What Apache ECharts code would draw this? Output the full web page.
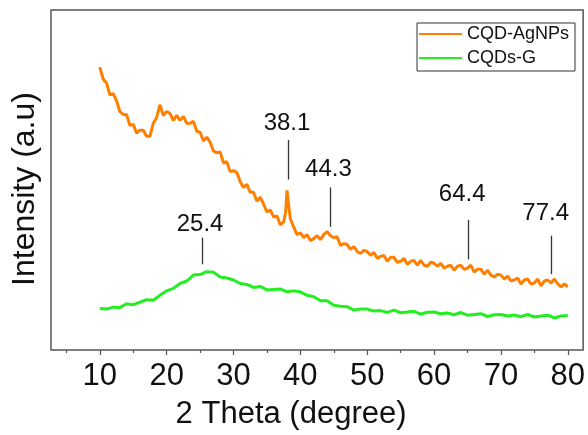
<!DOCTYPE html>
<html>
<head>
<meta charset="utf-8">
<script src="https://cdn.jsdelivr.net/npm/echarts@6/dist/echarts.min.js"></script>
<style>
html,body{margin:0;padding:0;background:#fff;}
#chart{width:588px;height:435px;}
</style>
</head>
<body>
<div id="chart"></div>
<script>
// ---- data (intensity in arbitrary units) ----
const agnpTheta = [10,10.5,11,11.5,12,12.5,13,13.5,14,14.5,15,15.5,16,16.5,17,17.5,18,18.5,19,19.5,20,20.5,21,21.5,22,22.5,23,23.5,24,24.5,25,25.5,26,26.5,27,27.5,28,28.5,29,29.5,30,30.5,31,31.5,32,32.5,33,33.5,34,34.5,35,35.5,36,36.5,37,37.5,37.8,38.0,38.2,38.5,39,39.5,40,40.5,41,41.5,42,42.5,43,43.5,44,44.5,45,45.5,46,46.5,47,47.5,48,48.5,49,49.5,50,50.5,51,51.5,52,52.5,53,53.5,54,54.5,55,55.5,56,56.5,57,57.5,58,58.5,59,59.5,60,60.5,61,61.5,62,62.5,63,63.5,64,64.5,65,65.5,66,66.5,67,67.5,68,68.5,69,69.5,70,70.5,71,71.5,72,72.5,73,73.5,74,74.5,75,75.5,76,76.5,77,77.5,78,78.5,79,79.5,80];
const agnpIntensity = [287,275,271,259,260,253,242,239,239,228,229,220,223,223,217,217,230,236,249,238,242,240,233,238,233,237,230,230,232,222,221,212,216,211,202,200,201,190,191,181,182,180,171,165,168,160,160,151,155,148,140,142,135,136,127,130,140,162,150,133,125,117,119,114,117,111,113,116,112,117,120,116,114,115,106,108,107,102,105,100,98,101,100,96,99,93,95,96,90,94,94,89,90,93,87,90,91,86,91,86,85,89,88,85,88,83,85,86,81,85,86,82,83,86,79,82,82,77,81,76,74,77,76,72,75,70,71,73,67,71,72,67,68,72,65,70,71,68,72,67,64,67,64];

const gTheta = [10,11,12,13,14,15,16,17,18,19,20,21,22,23,24,25,26,27,28,29,30,31,32,33,34,35,36,37,38,39,40,41,42,43,44,45,46,47,48,49,50,51,52,53,54,55,56,57,58,59,60,61,62,63,64,65,66,67,68,69,70,71,72,73,74,75,76,77,78,79,80];
const gIntensity = [42,41.5,43.5,43,47,46,48.5,51,50.5,55.5,60,62.5,67.5,70,76,76.5,79.5,79,74,73,71,67.5,66.5,63.5,64.5,61,61.5,62,59,60,59,55.5,54,50,50,45.5,44.5,44,40.5,41.5,41.5,39.5,40,38.2,40.5,37.8,38.5,39.3,36.5,38.3,38.5,36.8,37.5,35.8,38,35.3,36,36.8,34,35.8,36,34.5,35.5,33.8,36,33.5,34.5,35.3,32.5,34.5,35];

const seriesNames = ['CQD-AgNPs','CQDs-G'];
const xTicks = [10,20,30,40,50,60,70,80];
const xMinorTicks = [5,15,25,35,45,55,65,75];

// peak annotations
const peakText = ['25.4','38.1','44.3','64.4','77.4'];
const peakTextTheta = [25.0,38.0,44.2,64.2,76.7];
const peakTextIntensity = [127,229.5,183.5,158,139];
const peakLineTheta = [25.3,38.15,44.5,65.1,77.6];
const peakLineTop = [114,213,165,132,116];
const peakLineBottom = [87,173,125,92,77];

const FONT = 'Arial, "Liberation Sans", sans-serif';
const X_MIN = 2.7, X_MAX = 82.3, Y_MIN = 0, Y_MAX = 345;

const agnpData = agnpTheta.map((t,i)=>[t,agnpIntensity[i]]);
const gData = gTheta.map((t,i)=>[t,gIntensity[i]]);
const labelData = peakText.map((s,i)=>({name:s, value:[peakTextTheta[i], peakTextIntensity[i]]}));
const lineData = peakLineTheta.map((t,i)=>[{coord:[t,peakLineBottom[i]]},{coord:[t,peakLineTop[i]]}]);

const chart = echarts.init(document.getElementById('chart'), null, {renderer:'canvas'});
chart.setOption({
  animation:false,
  backgroundColor:'#fff',
  textStyle:{fontFamily:FONT},
  grid:{left:51,right:2.5,top:10,bottom:80,show:true,borderColor:'#555',borderWidth:1.5,backgroundColor:'transparent'},
  legend:{
    data:seriesNames,
    orient:'vertical',
    left:417, top:23,
    icon:'rect', itemWidth:43, itemHeight:2, itemGap:4,
    padding:[1,6,3,2],
    borderColor:'#333', borderWidth:1,
    textStyle:{fontSize:18, lineHeight:20, color:'#111', fontFamily:FONT}
  },
  xAxis:[{
    type:'value', min:X_MIN, max:X_MAX,
    name:'2 Theta (degree)', nameLocation:'middle', nameGap:49,
    nameTextStyle:{fontSize:31,color:'#111',fontFamily:FONT,padding:[0,52,0,0]},
    axisLine:{show:false},
    splitLine:{show:false},
    axisTick:{show:true,customValues:xTicks,length:5,inside:false,lineStyle:{color:'#555',width:1.2}},
    axisLabel:{show:true,customValues:xTicks,fontSize:31,color:'#111',margin:11,fontFamily:FONT}
  },{
    type:'value', min:X_MIN, max:X_MAX, position:'bottom',
    axisLine:{show:false}, splitLine:{show:false},
    axisTick:{show:true,customValues:xMinorTicks,length:3,lineStyle:{color:'#555',width:1.2}},
    axisLabel:{show:false}
  }],
  yAxis:[{
    type:'value', min:Y_MIN, max:Y_MAX,
    name:'Intensity (a.u)', nameLocation:'middle', nameGap:10,
    nameTextStyle:{fontSize:32,color:'#111',fontFamily:FONT,padding:[0,18,0,0]},
    axisLine:{show:false}, axisTick:{show:false}, axisLabel:{show:false}, splitLine:{show:false}
  }],
  series:[{
    name:seriesNames[0], type:'line', data:agnpData, showSymbol:false, symbol:'none',
    lineStyle:{color:'#ff8000',width:3}, itemStyle:{color:'#ff8000'}, z:3
  },{
    name:seriesNames[1], type:'line', data:gData, showSymbol:false, symbol:'none',
    lineStyle:{color:'#22ee22',width:3}, itemStyle:{color:'#22ee22'}, z:3
  },{
    name:'peaks', type:'scatter', data:labelData, symbolSize:0,
    itemStyle:{color:'#111',opacity:1}, silent:true,
    label:{show:true,position:'inside',formatter:'{b}',fontSize:24,color:'#111',opacity:1,fontFamily:FONT},
    markLine:{silent:true,symbol:'none',label:{show:false},lineStyle:{color:'#333',width:1.3,type:'solid',opacity:1},data:lineData},
    z:4
  }]
});
</script>
</body>
</html>
